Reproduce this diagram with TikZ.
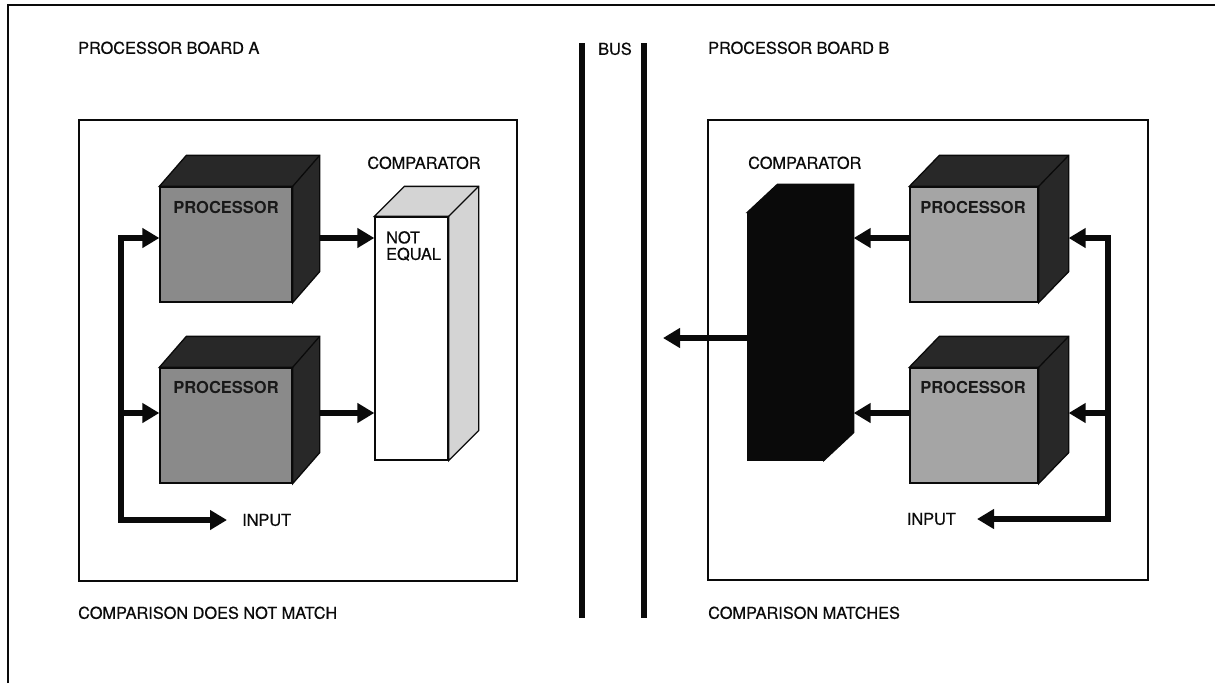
\documentclass[tikz,border=0pt]{standalone}
\usepackage{fontspec}
\setmainfont{TeX Gyre Heros}
\newfontfamily\scanfont[FakeBold=0.5]{TeX Gyre Heros}
\usetikzlibrary{arrows.meta,calc}
\definecolor{procgreyA}{RGB}{138,138,138}
\definecolor{procgreyB}{RGB}{165,165,165}
\definecolor{darkface}{RGB}{40,40,40}
\definecolor{lightface}{RGB}{212,212,212}
\definecolor{ink}{RGB}{10,10,10}
\newcommand{\cubefaces}[4]{%
  \filldraw[fill=#4,draw=ink,line width=1.3pt,line join=miter]
    (#1.north west) -- ++(#2,-#3) -- ($(#1.north east)+(#2,-#3)$)
    -- ($(#1.south east)+(#2,-#3)$) -- (#1.south east) -- (#1.north east) -- cycle;
  \draw[ink,line width=1.3pt] (#1.north east) -- ++(#2,-#3);
  \coordinate (#1-side) at ($(#1.east)+(#2,0)$);
}
\tikzset{
  txt/.style={font=\scanfont\fontsize{16.3}{18}\selectfont, text=ink, inner sep=0pt, text height=11.5pt, text depth=0pt},
  plabel/.style={txt, font=\fontsize{16.5}{18}\selectfont\bfseries, text=black!90},
  front/.style={draw=ink, line width=1.3pt, inner sep=0pt},
  board/.style={draw=ink, line width=1.6pt},
  busline/.style={draw=ink, line width=6pt},
  arr/.style={draw=ink, line width=6pt, line join=miter, -{Triangle[length=17pt,width=19pt]}},
  arrboth/.style={draw=ink, line width=6pt, line join=miter, {Triangle[length=17pt,width=19pt]}-{Triangle[length=17pt,width=19pt]}},
}
\begin{document}
\begin{tikzpicture}[x=1pt,y=-1pt]
\useasboundingbox (0,0) rectangle (1215,683);
\fill[white] (0,0) rectangle (1215,683);
% outer frame
\draw[ink,line width=2pt] (8,683) -- (8,5) -- (1215,5);
% boards
\draw[board] (79,120) rectangle (517,581);
\draw[board] (708,120) rectangle (1148,580);
% bus
\draw[busline] (582,43) -- (582,618);
\draw[busline] (644,43) -- (644,618);
% titles
\node[txt,anchor=west] (tA) at (78,48) {PROCESSOR BOARD A};
\node[txt,anchor=west] (tbus) at (598,49) {BUS};
\node[txt,anchor=west] (tB) at (708,48) {PROCESSOR BOARD B};
\node[txt,anchor=west] (bA) at (78,613) {COMPARISON DOES NOT MATCH};
\node[txt,anchor=west] (bB) at (708,613) {COMPARISON MATCHES};
% row coordinates
\coordinate (r1) at (0,238);
\coordinate (r2) at (0,413);
\coordinate (rout) at (0,338);

% ---------- Board A ----------
\node[front, fill=procgreyA, minimum width=132pt, minimum height=115pt] (pa1) at (226,244.5) {};
\cubefaces{pa1}{27}{31}{darkface}
\node[front, fill=procgreyA, minimum width=132pt, minimum height=115pt] (pa2) at (226,425.5) {};
\cubefaces{pa2}{27}{31}{darkface}
\node[plabel] (pa1l) at (226,208) {PROCESSOR};
\node[plabel] (pa2l) at (226,388) {PROCESSOR};
\node[front, fill=white, minimum width=73pt, minimum height=243pt] (ca) at (411.5,338.5) {};
\cubefaces{ca}{30}{30}{lightface}
\node[txt] (caL) at (424,163) {COMPARATOR};
\node[txt,anchor=north west,align=left,text height=,font=\scanfont\fontsize{16.3}{16.5}\selectfont] (ne) at (386,231) {NOT\\EQUAL};
\node[txt,anchor=west] (inA) at (242,520) {INPUT};
\coordinate (cA) at (121,520);
\draw[arrboth, shorten >=15pt] (pa1.west |- r1) -| (cA) -- (inA.west);
\draw[arr] (cA |- r2) -- (pa2.west |- r2);
\draw[arr] (pa1-side |- r1) -- (ca.west |- r1);
\draw[arr] (pa2-side |- r2) -- (ca.west |- r2);

% ---------- Board B ----------
\node[front, fill=ink, minimum width=75pt, minimum height=247pt] (cb) at (785.5,336.5) {};
\cubefaces{cb}{30}{28}{ink}
\node[txt,anchor=west] (cbL) at (748,163) {COMPARATOR};
\node[front, fill=procgreyB, minimum width=128pt, minimum height=115pt] (pb1) at (974,244.5) {};
\cubefaces{pb1}{30}{31}{darkface}
\node[front, fill=procgreyB, minimum width=128pt, minimum height=115pt] (pb2) at (974,425.5) {};
\cubefaces{pb2}{30}{31}{darkface}
\node[plabel] (pb1l) at (973,208) {PROCESSOR};
\node[plabel] (pb2l) at (973,388) {PROCESSOR};
\node[txt,anchor=east] (inB) at (956,519) {INPUT};
\coordinate (cB) at (1108,519);
\coordinate (outB) at (663,338);
\draw[arrboth, shorten >=21pt] (pb1-side |- r1) -| (cB) -- (inB.east);
\draw[arr] (cB |- r2) -- (pb2-side |- r2);
\draw[arr] (pb1.west |- r1) -- (cb-side |- r1);
\draw[arr] (pb2.west |- r2) -- (cb-side |- r2);
\draw[arr] (cb.west |- rout) -- (outB);
\end{tikzpicture}
\end{document}
